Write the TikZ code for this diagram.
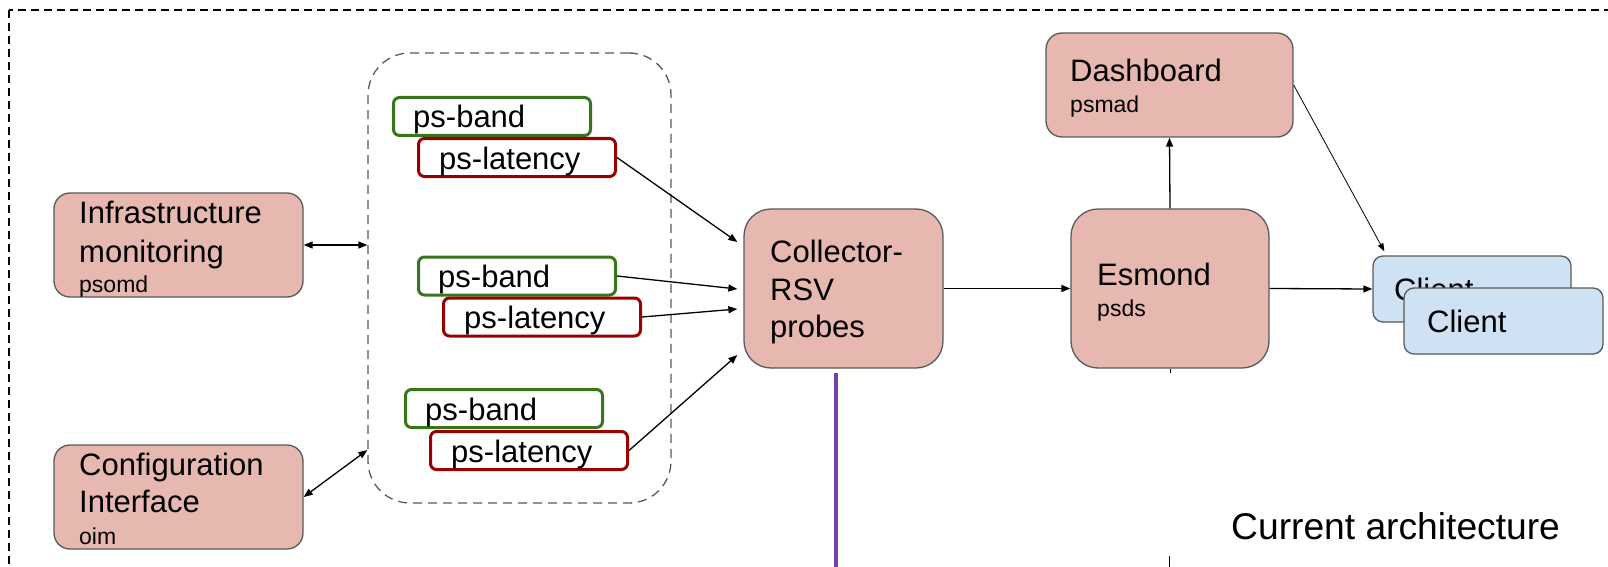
\documentclass[tikz,border=0pt]{standalone}
\usepackage{fontspec}
\setmainfont{Liberation Sans}
\usetikzlibrary{arrows.meta,calc}
\definecolor{pinkfill}{HTML}{E6B8AF}
\definecolor{boxline}{HTML}{595959}
\definecolor{clientfill}{HTML}{CFE2F3}
\definecolor{bandgreen}{HTML}{38761D}
\definecolor{latred}{HTML}{990000}
\definecolor{purpleline}{RGB}{118,64,172}
\begin{document}
\begin{tikzpicture}[x=1pt,y=-1pt,
  pinkbox/.style={draw=boxline, fill=pinkfill, line width=1.3pt, rounded corners=16pt, inner sep=0pt},
  bigbox/.style={pinkbox, rounded corners=27pt},
  clientbox/.style={draw=boxline, fill=clientfill, line width=1.3pt, rounded corners=10pt, inner sep=0pt, minimum width=198pt, minimum height=66pt},
  probebox/.style={fill=white, line width=3pt, rounded corners=6pt, inner sep=0pt, minimum width=197pt, minimum height=38pt},
  bandbox/.style={probebox, draw=bandgreen},
  latbox/.style={probebox, draw=latred},
  lbl/.style={anchor=base west, inner sep=0pt, font=\fontsize{31}{36}\selectfont},
  sublbl/.style={anchor=base west, inner sep=0pt, font=\fontsize{23}{27}\selectfont},
  tip/.style={-{Triangle[length=9pt,width=7pt]}},
  conn/.style={line width=1.3pt, tip},
  dconn/.style={line width=1.3pt, {Triangle[length=9pt,width=7pt]}-{Triangle[length=9pt,width=7pt]}},
  thinconn/.style={line width=0.8pt, -{Triangle[length=8pt,width=6pt]}}
]
\useasboundingbox (0,0) rectangle (1608,567);
\clip (0,0) rectangle (1608,567);

% outer frame
\draw[line width=1.3pt, dash pattern=on 8pt off 5pt] (9,10) rectangle (1650,620);

% group of probes
\node[draw=boxline, line width=1.3pt, dash pattern=on 9pt off 6pt, rounded corners=42pt,
      minimum width=303pt, minimum height=450pt, inner sep=0pt] (group) at (519.5,278) {};

\node[bandbox] (band1) at (492,116.5) {};
\node[latbox]  (lat1)  at (517,157.5) {};
\node[bandbox] (band2) at (517,276) {};
\node[latbox]  (lat2)  at (542,317) {};
\node[bandbox] (band3) at (504,408.5) {};
\node[latbox]  (lat3)  at (529,450.5) {};
\node[lbl] (band1t) at (413,128) {ps-band};
\node[lbl] (lat1t)  at (439,169) {ps-latency};
\node[lbl] (band2t) at (438,287.5) {ps-band};
\node[lbl] (lat2t)  at (464,328.5) {ps-latency};
\node[lbl] (band3t) at (425,420) {ps-band};
\node[lbl] (lat3t)  at (451,462) {ps-latency};

% left boxes
\node[pinkbox, minimum width=249pt, minimum height=104pt] (infra) at (178.5,245) {};
\node[lbl] (infrat1) at (79,223) {Infrastructure};
\node[lbl] (infrat2) at (79,262) {monitoring};
\node[sublbl] (infrat3) at (79,292) {psomd};

\node[pinkbox, minimum width=249pt, minimum height=104pt] (config) at (178.5,497) {};
\node[lbl] (configt1) at (79,475) {Configuration};
\node[lbl] (configt2) at (79,512) {Interface};
\node[sublbl] (configt3) at (79,544) {oim};

% collector and esmond
\node[bigbox, minimum width=199pt, minimum height=159pt] (collector) at (843.5,288.5) {};
\node[lbl] (collt1) at (770,262) {Collector-};
\node[lbl] (collt2) at (770,300) {RSV};
\node[lbl] (collt3) at (770,337) {probes};

\node[bigbox, minimum width=198pt, minimum height=159pt] (esmond) at (1170,288.5) {};
\node[lbl] (esmt1) at (1097,285) {Esmond};
\node[sublbl] (esmt2) at (1097,316) {psds};

\node[pinkbox, minimum width=247pt, minimum height=104pt] (dashboard) at (1169.5,85) {};
\node[lbl] (dasht1) at (1070,82) {Dashboard};
\node[sublbl] (dasht2) at (1070,113) {psmad};

% clients
\node[clientbox] (client1) at (1472,289) {};
\node[lbl] (client1t) at (1394,300) {Client};
\node[clientbox, minimum width=199pt] (client2) at (1503.5,321) {};
\node[lbl] (client2t) at (1427,332) {Client};

% title
\node[anchor=base west, inner sep=0pt, font=\fontsize{37.2}{43}\selectfont] (title) at (1231,539) {Current architecture};

% connectors
\draw[dconn] (infra.east) -- (infra.east -| group.west);
\draw[dconn] (config.east) -- (group.west |- 0,450);
\draw[conn] (lat1.east) -- ($(collector.west)+(-6,-46.5)$);
\draw[conn] (band2.east) -- ($(collector.west)+(-6,0.5)$);
\draw[conn] (lat2.east) -- ($(collector.west)+(-6,20.5)$);
\draw[conn] (lat3.east) -- ($(collector.west)+(-6,66.5)$);
\draw[conn] (collector.east) -- (esmond.west);
\draw[conn] (esmond.north) -- (dashboard.south);
\draw[conn] (esmond.east) -- (client1.west);
\draw[thinconn] (dashboard.east) -- ($(client1.north west)+(12,-4)$);

% purple line and lower ticks
\coordinate (pend) at (836,567);
\draw[purpleline, line width=4pt, shorten <=4pt] (collector.south -| pend) -- (pend);
\coordinate (etick) at (1169,556);
\coordinate (ebot) at (1169,567);
\draw[line width=1pt] (esmond.south) -- ++(0,4);
\draw[line width=1pt] (etick) -- (ebot);
\end{tikzpicture}
\end{document}
